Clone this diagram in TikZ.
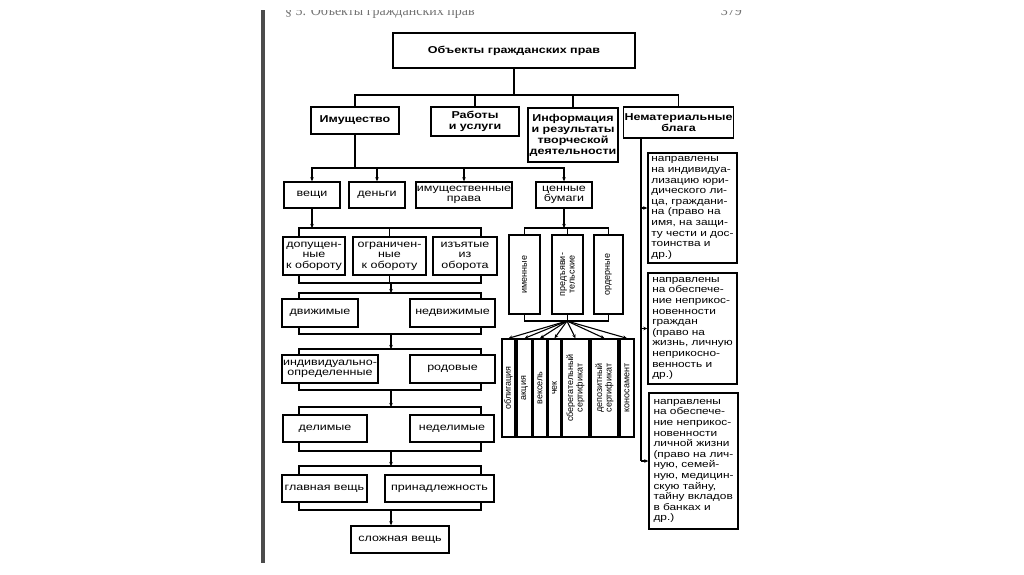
\documentclass[tikz,border=0pt]{standalone}
\usepackage{fontspec}
\setmainfont{Liberation Sans}[FakeStretch=1.25]
\newfontfamily\vertfont{Liberation Sans}
\newfontfamily\headfont{Liberation Serif}
\usetikzlibrary{arrows.meta}

\begin{document}
\begin{tikzpicture}[x=1pt, y=-1pt,
  box/.style={rectangle, draw, line width=1.4pt, inner sep=1pt, align=center, font=\fontsize{10}{10.5}\selectfont},
  bbox/.style={box, font=\bfseries\fontsize{10}{11}\selectfont},
  vbox/.style={box, rotate=90, inner sep=0pt, font=\vertfont\fontsize{9}{9.5}\selectfont},
  tbox/.style={box, align=left, minimum width=89, inner sep=2pt, font=\fontsize{9.5}{10.6}\selectfont},
  line/.style={line width=1.1pt},
  arr/.style={line, -{Stealth[length=4pt,width=3.5pt]}}
]
\useasboundingbox (0,0) rectangle (1024,574);
\fill[white] (0,0) rectangle (1024,574);
\fill[black!70] (261,10) rectangle (265,563);
% running head, cut at the top of the scan
\begin{scope}
\clip (270,10) rectangle (760,20);
\node[anchor=base west, inner sep=0pt, text=black!55, font=\headfont\fontsize{14}{14}\selectfont] (hdr) at (285,15) {§ 5. Объекты гражданских прав};
\node[anchor=base east, inner sep=0pt, text=black!55, font=\headfont\fontsize{14}{14}\selectfont] (pg) at (742,15) {379};
\end{scope}

% top level
\node[box, line width=1.5pt, minimum width=242, minimum height=35, font=\bfseries\fontsize{10}{11}\selectfont] (title) at (514,50.5) {Объекты гражданских прав};
\node[bbox, minimum width=88, minimum height=27] (imush) at (355,120.5) {Имущество};
\node[bbox, minimum width=88, minimum height=29] (rabot) at (475,121.5) {Работы\\и услуги};
\node[bbox, minimum width=90, minimum height=54] (inform) at (573,135) {Информация\\и результаты\\творческой\\деятельности};
\node[bbox, minimum width=109, minimum height=31] (nemat) at (678.5,122.5) {Нематериальные\\блага};

% property
\node[box, minimum width=56, minimum height=26] (veshi) at (312,195) {вещи};
\node[box, minimum width=56, minimum height=26] (dengi) at (377,195) {деньги};
\node[box, minimum width=96, minimum height=26] (imprava) at (464,195) {имущественные\\права};
\node[box, minimum width=56, minimum height=26] (cb) at (564,195) {ценные\\бумаги};

\node[box, minimum width=62, minimum height=38] (dop) at (314,256) {допущен-\\ные\\к обороту};
\node[box, minimum width=73, minimum height=38] (ogr) at (389.5,256) {ограничен-\\ные\\к обороту};
\node[box, minimum width=64, minimum height=38] (izy) at (465,256) {изъятые\\из\\оборота};
\node[box, minimum width=76, minimum height=28] (dv) at (320,313) {движимые};
\node[box, minimum width=85, minimum height=28] (ndv) at (452.5,313) {недвижимые};
\node[box, minimum width=96, minimum height=28] (ind) at (330,369) {индивидуально-\\определенные};
\node[box, minimum width=85, minimum height=28] (rod) at (452.5,369) {родовые};
\node[box, minimum width=84, minimum height=27] (del) at (325,428.5) {делимые};
\node[box, minimum width=84, minimum height=27] (ndel) at (452,428.5) {неделимые};
\node[box, minimum width=85, minimum height=27] (glav) at (324.5,488.5) {главная вещь};
\node[box, minimum width=109, minimum height=27] (prin) at (439.5,488.5) {принадлежность};
\node[box, minimum width=98, minimum height=27] (slozh) at (400,539.5) {сложная вещь};

% securities
\node[vbox, minimum width=79, minimum height=31] (imen) at (524.5,274.5) {именные};
\node[vbox, minimum width=79, minimum height=31] (predy) at (567.5,274.5) {предъяви-\\тельские};
\node[vbox, minimum width=79, minimum height=29] (ord) at (608.5,274.5) {ордерные};
\node[vbox, minimum width=98, minimum height=13] (obl) at (508.5,388) {облигация};
\node[vbox, minimum width=98, minimum height=15] (akc) at (524.5,388) {акция};
\node[vbox, minimum width=98, minimum height=14] (veks) at (540,388) {вексель};
\node[vbox, minimum width=98, minimum height=13] (chek) at (554.5,388) {чек};
\node[vbox, minimum width=98, minimum height=27] (sber) at (575.5,388) {сберегательный\\сертификат};
\node[vbox, minimum width=98, minimum height=27] (depo) at (604.5,388) {депозитный\\сертификат};
\node[vbox, minimum width=98, minimum height=14] (kono) at (627,388) {коносамент};

% personal non-property goods
\node[tbox, minimum height=110] (n1) at (692.5,208) {направлены\\на индивидуа-\\лизацию юри-\\дического ли-\\ца, граждани-\\на (право на\\имя, на защи-\\ту чести и дос-\\тоинства и\\др.)};
\node[tbox, minimum height=111] (n2) at (692.5,328.5) {направлены\\на обеспече-\\ние неприкос-\\новенности\\граждан\\(право на\\жизнь, личную\\неприкосно-\\венность и\\др.)};
\node[tbox, minimum height=136] (n3) at (693.5,461) {направлены\\на обеспече-\\ние неприкос-\\новенности\\личной жизни\\(право на лич-\\ную, семей-\\ную, медицин-\\скую тайну,\\тайну вкладов\\в банках и\\др.)};

% connectors
\coordinate (bus1) at (514,95);
\draw[line] (title.south) -- (bus1);
\draw[line] (imush.north) |- (bus1) -| (nemat.north);
\draw[line] (rabot.north) -- (rabot.north |- bus1);
\draw[line] (inform.north) -- (inform.north |- bus1);

\coordinate (bus2) at (355,168);
\draw[line] (imush.south) -- (bus2);
\draw[arr] (bus2) -| (veshi.north);
\draw[arr] (bus2) -| (cb.north);
\draw[arr] (dengi.north |- bus2) -- (dengi.north);
\draw[arr] (imprava.north |- bus2) -- (imprava.north);

\coordinate (L) at (299,0);
\coordinate (R) at (481,0);
\coordinate (t3) at (391,228);
\coordinate (b3) at (391,283);
\coordinate (t4) at (391,293);
\coordinate (b4) at (391,334);
\coordinate (t5) at (391,349);
\coordinate (b5) at (391,390);
\coordinate (t6) at (391,407);
\coordinate (b6) at (391,451);
\coordinate (t7) at (391,466);
\coordinate (b7) at (391,510);
\draw[arr] (veshi.south) -- (veshi.south |- t3);
\draw[line] (dop.north -| L) |- (t3) -| (izy.north -| R);
\draw[line] (ogr.north) -- (ogr.north |- t3);
\draw[line] (dop.south -| L) |- (b3) -| (izy.south -| R);
\draw[line] (ogr.south) -- (ogr.south |- b3);
\draw[arr] (b3) -- (t4);
\draw[line] (dv.north -| L) |- (t4) -| (ndv.north -| R);
\draw[line] (dv.south -| L) |- (b4) -| (ndv.south -| R);
\draw[arr] (b4) -- (t5);
\draw[line] (ind.north -| L) |- (t5) -| (rod.north -| R);
\draw[line] (ind.south -| L) |- (b5) -| (rod.south -| R);
\draw[arr] (b5) -- (t6);
\draw[line] (del.north -| L) |- (t6) -| (ndel.north -| R);
\draw[line] (del.south -| L) |- (b6) -| (ndel.south -| R);
\draw[arr] (b6) -- (t7);
\draw[line] (glav.north -| L) |- (t7) -| (prin.north -| R);
\draw[line] (glav.south -| L) |- (b7) -| (prin.south -| R);
\draw[arr] (b7) -- (b7 |- slozh.north);

\coordinate (tcb) at (567,228);
\coordinate (fan) at (567,321);
\draw[arr] (cb.south) -- (cb.south |- tcb);
\draw[line] (imen.east) |- (tcb) -| (ord.east);
\draw[line] (predy.east) -- (predy.east |- tcb);
\draw[line] (imen.west) |- (fan) -| (ord.west);
\draw[line] (predy.west) -- (predy.west |- fan);
\draw[arr] (fan) -- (obl.east);
\draw[arr] (fan) -- (akc.east);
\draw[arr] (fan) -- (veks.east);
\draw[arr] (fan) -- (chek.east);
\draw[arr] (fan) -- (sber.east);
\draw[arr] (fan) -- (depo.east);
\draw[arr] (fan) -- (kono.east);

\coordinate (nv) at (641,463);
\draw[line] (nemat.south -| nv) -- (n3.west -| nv);
\draw[arr] (n1.west -| nv) -- (n1.west);
\draw[arr] (n2.west -| nv) -- (n2.west);
\draw[arr] (n3.west -| nv) -- (n3.west);
\end{tikzpicture}
\end{document}
